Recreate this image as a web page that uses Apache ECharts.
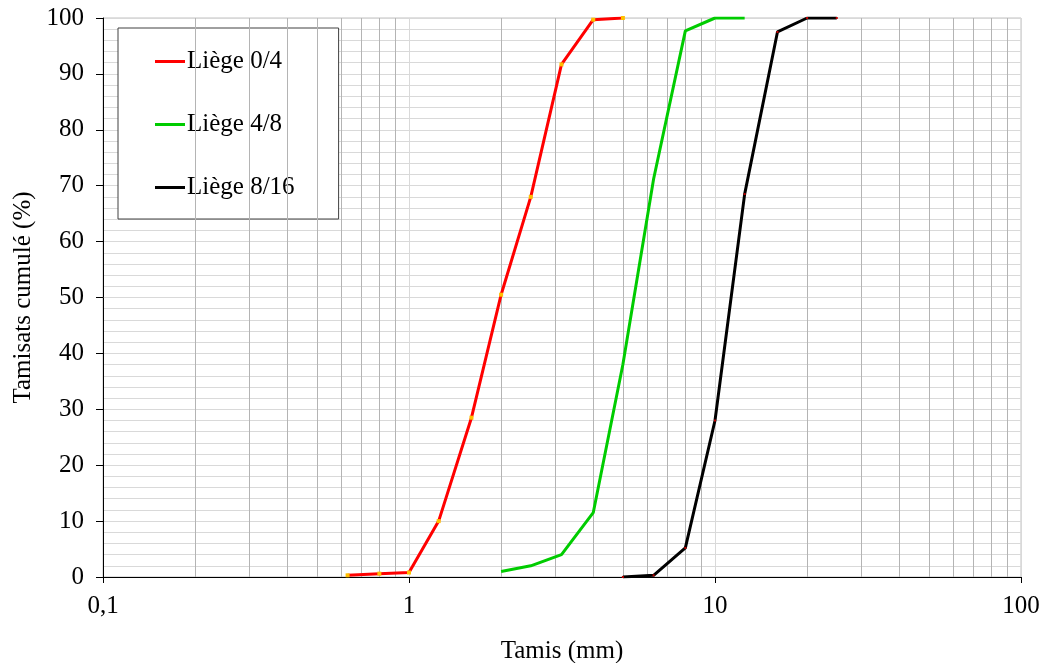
<!DOCTYPE html>
<html>
<head>
<meta charset="utf-8">
<script src="https://cdn.jsdelivr.net/npm/echarts@6/dist/echarts.min.js"></script>
<style>
  html, body { margin: 0; padding: 0; background: #fff; }
  #chart { width: 1046px; height: 663px; }
</style>
</head>
<body>
<div id="chart"></div>
<script>
// tamis (mm) et tamisats cumulés (%)
const sieves04 = [0.63, 0.8, 1, 1.25, 1.6, 2, 2.5, 3.15, 4, 5];
const pass04 = [0.3, 0.6, 0.8, 10, 28.5, 50.5, 68, 91.7, 99.7, 100];

const sieves48 = [2, 2.5, 3.15, 4, 5, 6.3, 8, 10, 12.5];
const pass48 = [1, 2, 4, 11.5, 38, 71.2, 97.7, 100, 100];

const sieves816 = [5, 6.3, 8, 10, 12.5, 16, 20, 25];
const pass816 = [0, 0.3, 5.2, 28, 68.5, 97.5, 100, 100];

const seriesNames = ['Liège 0/4', 'Liège 4/8', 'Liège 8/16'];
const lineColors = ['#ff0000', '#00cc00', '#000000'];

// lignes de grille secondaires (2..9 par décade)
const minorGrid = [];
[0.1, 1, 10].forEach(d => {
  for (let k = 2; k <= 9; k++) minorGrid.push(+(d * k).toFixed(2));
});

const font = 'Liberation Serif, Times New Roman, serif';

function pairs(xs, ys) {
  return xs.map((x, i) => [x, ys[i]]);
}

const chart = echarts.init(document.getElementById('chart'));

chart.setOption({
  backgroundColor: '#fff',
  animation: false,
  textStyle: { fontFamily: font },
  grid: {
    left: 103, right: 25, top: 18, bottom: 86,
    outerBoundsMode: 'none', containLabel: false,
    show: true, borderColor: '#c0c0c0', borderWidth: 1
  },
  legend: {
    orient: 'vertical',
    left: 118,
    top: 28,
    padding: [21, 44, 19, 37],
    itemGap: 38,
    itemWidth: 30,
    itemHeight: 3,
    icon: 'rect',
    backgroundColor: '#fff',
    borderColor: '#404040',
    borderWidth: 1,
    textStyle: { fontFamily: font, fontSize: 25, color: '#000', padding: [0, 0, 0, -3] },
    data: seriesNames.map((n, i) => ({ name: n, itemStyle: { color: lineColors[i] } }))
  },
  xAxis: {
    type: 'log',
    logBase: 10,
    min: 0.1,
    max: 100,
    name: 'Tamis (mm)',
    nameLocation: 'middle',
    nameGap: 62,
    nameTextStyle: { fontFamily: font, fontSize: 25, color: '#000' },
    axisLine: { onZero: false, lineStyle: { color: '#000', width: 1 } },
    axisTick: { show: true, length: 6, lineStyle: { color: '#000' } },
    axisLabel: {
      fontFamily: font, fontSize: 25, color: '#000', margin: 17,
      formatter: v => String(v).replace('.', ',')
    },
    splitLine: { show: true, lineStyle: { color: '#d9d9d9', width: 1 } }
  },
  yAxis: {
    type: 'value',
    min: 0,
    max: 100,
    interval: 10,
    name: 'Tamisats cumulé (%)',
    nameLocation: 'middle',
    nameGap: 66,
    nameTextStyle: { fontFamily: font, fontSize: 25, color: '#000' },
    axisLine: { show: true, lineStyle: { color: '#000', width: 1 } },
    axisTick: { show: true, length: 7, lineStyle: { color: '#000' } },
    axisLabel: { fontFamily: font, fontSize: 25, color: '#000', margin: 19 },
    splitLine: { show: true, lineStyle: { color: '#d9d9d9', width: 1 } },
    minorTick: { show: false, splitNumber: 5 },
    minorSplitLine: { show: true, lineStyle: { color: '#d9d9d9', width: 1 } }
  },
  series: [
    {
      name: 'grid',
      type: 'line',
      data: [],
      silent: true,
      markLine: {
        silent: true,
        symbol: 'none',
        label: { show: false },
        lineStyle: { color: '#b4b4b4', width: 1, type: 'solid' },
        data: minorGrid.map(v => ({ xAxis: v }))
      }
    },
    {
      name: seriesNames[0],
      type: 'line',
      data: pairs(sieves04, pass04),
      lineStyle: { color: lineColors[0], width: 3 },
      itemStyle: { color: '#ffc000' },
      symbol: 'rect',
      symbolSize: 4,
      z: 5
    },
    {
      name: seriesNames[1],
      type: 'line',
      data: pairs(sieves48, pass48),
      lineStyle: { color: lineColors[1], width: 3 },
      itemStyle: { color: lineColors[1] },
      symbol: 'none',
      z: 5
    },
    {
      name: seriesNames[2],
      type: 'line',
      data: pairs(sieves816, pass816),
      lineStyle: { color: lineColors[2], width: 3 },
      itemStyle: { color: '#c00000' },
      symbol: 'rect',
      symbolSize: 2,
      z: 5
    }
  ]
});
</script>
</body>
</html>
